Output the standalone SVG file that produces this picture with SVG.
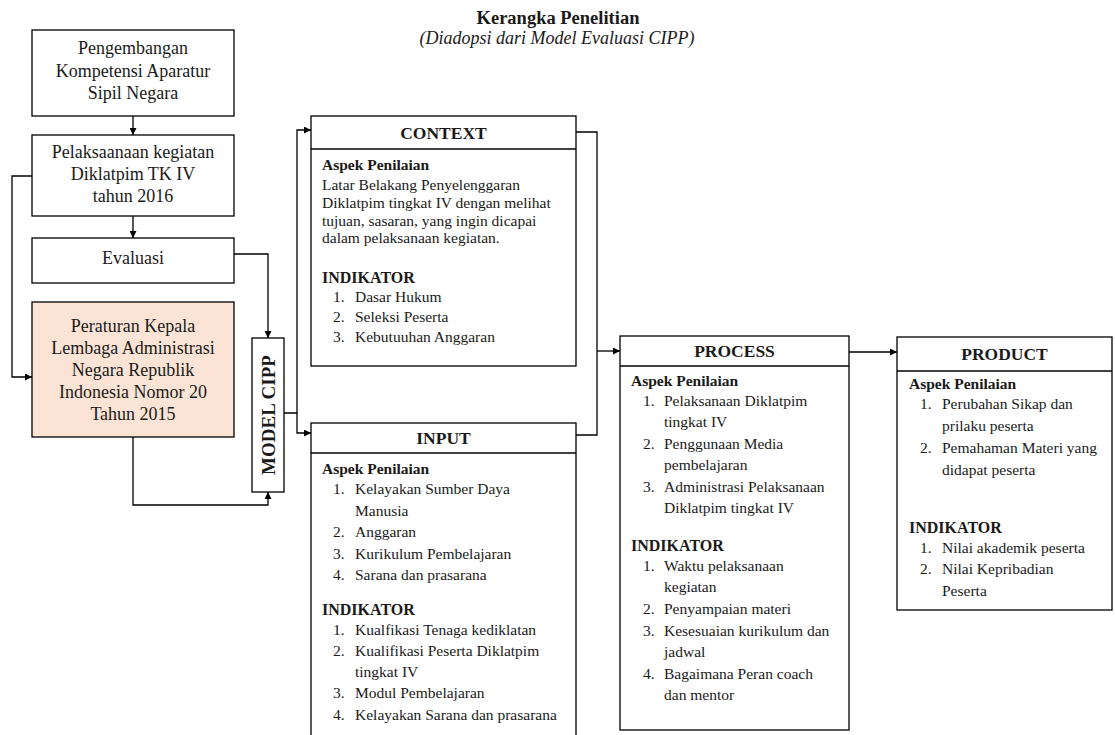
<svg xmlns="http://www.w3.org/2000/svg" width="1115" height="735" viewBox="0 0 1115 735">
<defs>
<marker id="ah" viewBox="0 0 10 10" refX="10" refY="5" markerWidth="8" markerHeight="7" markerUnits="userSpaceOnUse" orient="auto"><path d="M0,0 L10,5 L0,10 z" fill="#000"/></marker>
<style>
.box{fill:#fff;stroke:#000;stroke-width:1.3}
.peach{fill:#fbe4d5;stroke:#000;stroke-width:1.3}
.ln{fill:none;stroke:#000;stroke-width:1.3}
text{font-family:"Liberation Serif","Times New Roman",serif;fill:#1a1a1a}
.lt{font-size:18px;text-anchor:middle}
.title{font-size:18.5px;font-weight:bold;text-anchor:middle}
.sub{font-size:18px;font-style:italic;text-anchor:middle}
.hdr{font-size:17.5px;font-weight:bold;text-anchor:middle}
.b{font-size:15.5px;font-weight:bold}
.ind{font-size:16px;font-weight:bold}
.c{font-size:15.5px}
.mc{font-size:19px;font-weight:bold;text-anchor:middle}
</style>
</defs>
<rect width="1115" height="735" fill="#fff"/>
<g id="title">
<text class="title" x="558" y="24">Kerangka Penelitian</text>
<text class="sub" x="557" y="44">(Diadopsi dari Model Evaluasi CIPP)</text>
</g>
<g id="connectors">
<path class="ln" d="M133,116 V135" marker-end="url(#ah)"/>
<path class="ln" d="M133,216 V238" marker-end="url(#ah)"/>
<path class="ln" d="M32,176 H12 V377 H32" marker-end="url(#ah)"/>
<path class="ln" d="M234,254 H268 V338" marker-end="url(#ah)"/>
<path class="ln" d="M133,437 V505 H268 V492" marker-end="url(#ah)"/>
<path class="ln" d="M284,413 H297 V130 H311" marker-end="url(#ah)"/>
<path class="ln" d="M297,413 V433 H311" marker-end="url(#ah)"/>
<path class="ln" d="M576,132 H597 V435 H576"/>
<path class="ln" d="M597,351 H620" marker-end="url(#ah)"/>
<path class="ln" d="M849,352 H897" marker-end="url(#ah)"/>
</g>
<g id="pengembangan">
<rect class="box" x="32" y="30" width="202" height="86"/>
<text class="lt" x="133" y="54">Pengembangan</text>
<text class="lt" x="133" y="77">Kompetensi Aparatur</text>
<text class="lt" x="133" y="99">Sipil Negara</text>
</g>
<g id="pelaksanaan">
<rect class="box" x="32" y="135" width="202" height="81"/>
<text class="lt" x="133" y="158">Pelaksaanaan kegiatan</text>
<text class="lt" x="133" y="180">Diklatpim TK IV</text>
<text class="lt" x="133" y="202">tahun 2016</text>
</g>
<g id="evaluasi">
<rect class="box" x="32" y="238" width="202" height="45"/>
<text class="lt" x="133" y="264">Evaluasi</text>
</g>
<g id="peraturan">
<rect class="peach" x="32" y="302" width="202" height="135"/>
<text class="lt" x="133" y="332">Peraturan Kepala</text>
<text class="lt" x="133" y="354">Lembaga Administrasi</text>
<text class="lt" x="133" y="376">Negara Republik</text>
<text class="lt" x="133" y="398">Indonesia Nomor 20</text>
<text class="lt" x="133" y="420">Tahun 2015</text>
</g>
<g id="model-cipp">
<rect class="box" x="252" y="338" width="32" height="154"/>
<text class="mc" transform="translate(275,415) rotate(-90)">MODEL CIPP</text>
</g>
<g id="context">
<rect class="box" x="311" y="116" width="265" height="250"/>
<line class="ln" x1="311" y1="149" x2="576" y2="149"/>
<text class="hdr" x="443.5" y="139">CONTEXT</text>
<text class="b" x="322" y="170">Aspek Penilaian</text>
<text class="c" x="322" y="190">Latar Belakang Penyelenggaran</text>
<text class="c" x="322" y="208">Diklatpim tingkat IV dengan melihat</text>
<text class="c" x="322" y="225.5">tujuan, sasaran, yang ingin dicapai</text>
<text class="c" x="322" y="243">dalam pelaksanaan kegiatan.</text>
<text class="ind" x="322" y="283">INDIKATOR</text>
<text class="c" x="333" y="302">1.</text><text class="c" x="355" y="302">Dasar Hukum</text>
<text class="c" x="333" y="322">2.</text><text class="c" x="355" y="322">Seleksi Peserta</text>
<text class="c" x="333" y="342">3.</text><text class="c" x="355" y="342">Kebutuuhan Anggaran</text>
</g>
<g id="input">
<rect class="box" x="311" y="423" width="265" height="330"/>
<line class="ln" x1="311" y1="453" x2="576" y2="453"/>
<text class="hdr" x="443.5" y="444">INPUT</text>
<text class="b" x="322" y="474">Aspek Penilaian</text>
<text class="c" x="333" y="494">1.</text><text class="c" x="355" y="494">Kelayakan Sumber Daya</text>
<text class="c" x="355" y="516">Manusia</text>
<text class="c" x="333" y="537">2.</text><text class="c" x="355" y="537">Anggaran</text>
<text class="c" x="333" y="559">3.</text><text class="c" x="355" y="559">Kurikulum Pembelajaran</text>
<text class="c" x="333" y="580">4.</text><text class="c" x="355" y="580">Sarana dan prasarana</text>
<text class="ind" x="322" y="615">INDIKATOR</text>
<text class="c" x="333" y="635">1.</text><text class="c" x="355" y="635">Kualfikasi Tenaga kediklatan</text>
<text class="c" x="333" y="656">2.</text><text class="c" x="355" y="656">Kualifikasi Peserta Diklatpim</text>
<text class="c" x="355" y="677">tingkat IV</text>
<text class="c" x="333" y="698">3.</text><text class="c" x="355" y="698">Modul Pembelajaran</text>
<text class="c" x="333" y="720">4.</text><text class="c" x="355" y="720">Kelayakan Sarana dan prasarana</text>
</g>
<g id="process">
<rect class="box" x="620" y="336" width="229" height="394"/>
<line class="ln" x1="620" y1="366" x2="849" y2="366"/>
<text class="hdr" x="734.5" y="357">PROCESS</text>
<text class="b" x="631" y="386">Aspek Penilaian</text>
<text class="c" x="643" y="406">1.</text><text class="c" x="664" y="406">Pelaksanaan Diklatpim</text>
<text class="c" x="664" y="427">tingkat IV</text>
<text class="c" x="643" y="449">2.</text><text class="c" x="664" y="449">Penggunaan Media</text>
<text class="c" x="664" y="470">pembelajaran</text>
<text class="c" x="643" y="492">3.</text><text class="c" x="664" y="492">Administrasi Pelaksanaan</text>
<text class="c" x="664" y="513">Diklatpim tingkat IV</text>
<text class="ind" x="631" y="551">INDIKATOR</text>
<text class="c" x="643" y="571">1.</text><text class="c" x="664" y="571">Waktu pelaksanaan</text>
<text class="c" x="664" y="592">kegiatan</text>
<text class="c" x="643" y="614">2.</text><text class="c" x="664" y="614">Penyampaian materi</text>
<text class="c" x="643" y="636">3.</text><text class="c" x="664" y="636">Kesesuaian kurikulum dan</text>
<text class="c" x="664" y="657">jadwal</text>
<text class="c" x="643" y="679">4.</text><text class="c" x="664" y="679">Bagaimana Peran coach</text>
<text class="c" x="664" y="700">dan mentor</text>
</g>
<g id="product">
<rect class="box" x="897" y="337" width="215" height="273"/>
<line class="ln" x1="897" y1="371" x2="1112" y2="371"/>
<text class="hdr" x="1004.5" y="360">PRODUCT</text>
<text class="b" x="909" y="389">Aspek Penilaian</text>
<text class="c" x="920" y="409">1.</text><text class="c" x="942" y="409">Perubahan Sikap dan</text>
<text class="c" x="942" y="431">prilaku peserta</text>
<text class="c" x="920" y="453">2.</text><text class="c" x="942" y="453">Pemahaman Materi yang</text>
<text class="c" x="942" y="475">didapat peserta</text>
<text class="ind" x="909" y="533">INDIKATOR</text>
<text class="c" x="920" y="553">1.</text><text class="c" x="942" y="553">Nilai akademik peserta</text>
<text class="c" x="920" y="574">2.</text><text class="c" x="942" y="574">Nilai Kepribadian</text>
<text class="c" x="942" y="596">Peserta</text>
</g>
</svg>
